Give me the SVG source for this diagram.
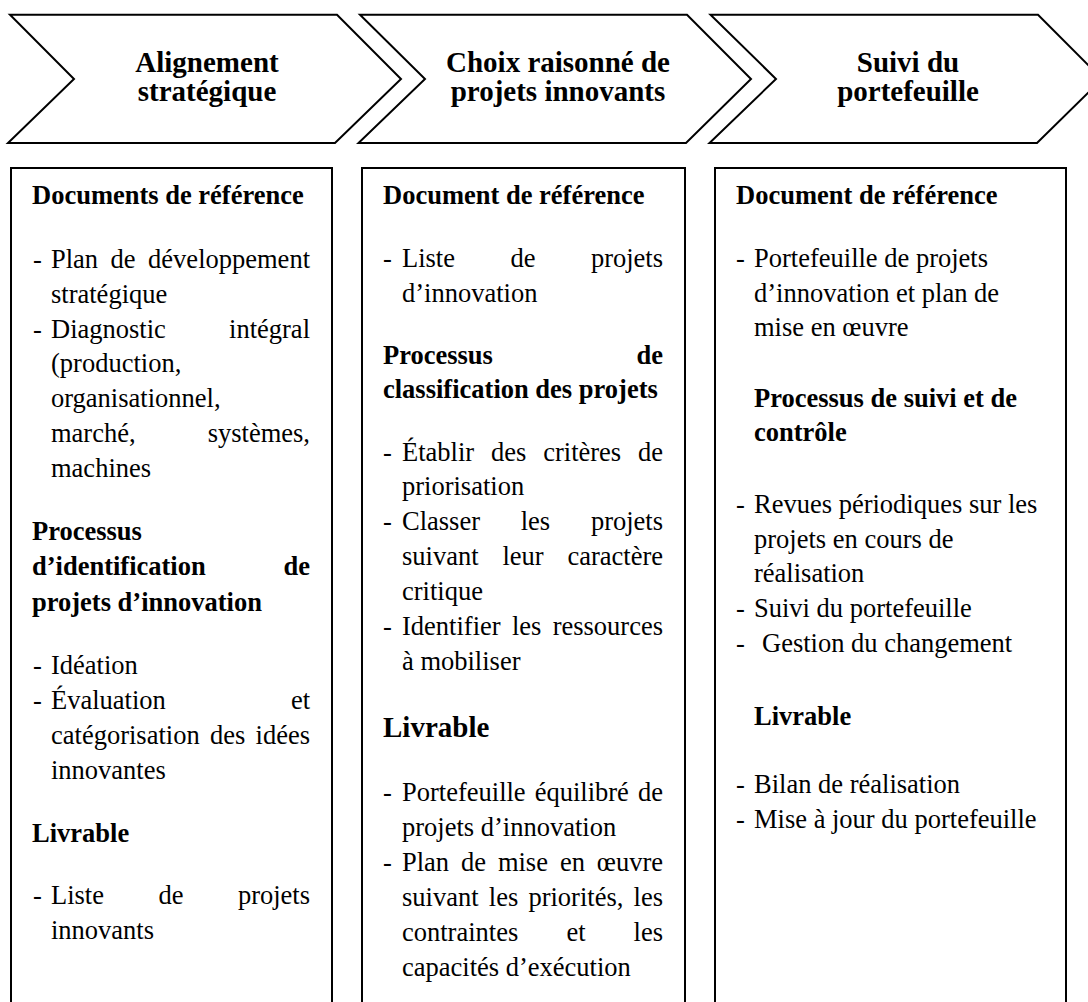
<svg xmlns="http://www.w3.org/2000/svg" width="1088" height="1002" viewBox="0 0 1088 1002">
<style>
  .shape { fill: #ffffff; stroke: #000000; stroke-width: 2; stroke-linejoin: miter; }
  text { font-family: "Liberation Serif", "Times New Roman", serif; fill: #000000; }
  .title { font-size: 29px; font-weight: bold; text-anchor: middle; }
  .t { font-size: 26.5px; }
  .b { font-size: 26.5px; font-weight: bold; }
  .bl { font-size: 29px; font-weight: bold; }
  .e { text-anchor: end; }
</style>
<rect width="1088" height="1002" fill="#ffffff"/>

<g id="chevron-alignement">
  <polygon class="shape" points="10,14.7 337,14.7 401,79 335,143 8,143 74,79"/>
  <text class="title" x="207" y="72">Alignement</text>
  <text class="title" x="207" y="101">stratégique</text>
</g>
<g id="chevron-choix">
  <polygon class="shape" points="360,14.7 687,14.7 751,79 686,143 358.5,143 425,79"/>
  <text class="title" x="558" y="72">Choix raisonné de</text>
  <text class="title" x="558" y="101">projets innovants</text>
</g>
<g id="chevron-suivi">
  <polygon class="shape" points="710.5,14.7 1038,14.7 1102,79 1037,143 709.5,143 776,79"/>
  <text class="title" x="908" y="72">Suivi du</text>
  <text class="title" x="908" y="101">portefeuille</text>
</g>

<g id="connectors"></g>

<g id="box-alignement">
  <rect class="shape" x="11" y="168" width="321" height="900"/>
  <text class="b" x="32" y="204">Documents de référence</text>
  <text class="t" x="33" y="268">-</text>
  <text class="t" x="51" y="268">Plan</text>
  <text class="t" x="110.6" y="268">de</text>
  <text class="t e" x="310" y="268">développement</text>
  <text class="t" x="51" y="303">stratégique</text>
  <text class="t" x="33" y="338">-</text>
  <text class="t" x="51" y="338">Diagnostic</text>
  <text class="t e" x="310" y="338">intégral</text>
  <text class="t" x="51" y="372">(production,</text>
  <text class="t" x="51" y="407">organisationnel,</text>
  <text class="t" x="51" y="442">marché,</text>
  <text class="t e" x="310" y="442">systèmes,</text>
  <text class="t" x="51" y="477">machines</text>
  <text class="b" x="32" y="540">Processus</text>
  <text class="b" x="32" y="575">d’identification</text>
  <text class="b e" x="310" y="575">de</text>
  <text class="b" x="32" y="611">projets d’innovation</text>
  <text class="t" x="33" y="674">-</text>
  <text class="t" x="51" y="674">Idéation</text>
  <text class="t" x="33" y="709">-</text>
  <text class="t" x="51" y="709">Évaluation</text>
  <text class="t e" x="310" y="709">et</text>
  <text class="t" x="51" y="744">catégorisation</text>
  <text class="t" x="210" y="744">des</text>
  <text class="t e" x="310" y="744">idées</text>
  <text class="t" x="51" y="779">innovantes</text>
  <text class="b" x="32" y="842">Livrable</text>
  <text class="t" x="33" y="904">-</text>
  <text class="t" x="51" y="904">Liste</text>
  <text class="t" x="158.4" y="904">de</text>
  <text class="t e" x="310" y="904">projets</text>
  <text class="t" x="51" y="939">innovants</text>
</g>

<g id="box-choix">
  <rect class="shape" x="362" y="168" width="323" height="900"/>
  <text class="b" x="383" y="204">Document de référence</text>
  <text class="t" x="383" y="267">-</text>
  <text class="t" x="402" y="267">Liste</text>
  <text class="t" x="510.4" y="267">de</text>
  <text class="t e" x="663" y="267">projets</text>
  <text class="t" x="402" y="302">d’innovation</text>
  <text class="b" x="383" y="364">Processus</text>
  <text class="b e" x="663" y="364">de</text>
  <text class="b" x="383" y="398">classification des projets</text>
  <text class="t" x="383" y="461">-</text>
  <text class="t" x="402" y="461">Établir</text>
  <text class="t" x="491" y="461">des</text>
  <text class="t" x="543.2" y="461">critères</text>
  <text class="t e" x="663" y="461">de</text>
  <text class="t" x="402" y="495">priorisation</text>
  <text class="t" x="383" y="530">-</text>
  <text class="t" x="402" y="530">Classer</text>
  <text class="t" x="520.7" y="530">les</text>
  <text class="t e" x="663" y="530">projets</text>
  <text class="t" x="402" y="565">suivant</text>
  <text class="t" x="502.4" y="565">leur</text>
  <text class="t e" x="663" y="565">caractère</text>
  <text class="t" x="402" y="600">critique</text>
  <text class="t" x="383" y="635">-</text>
  <text class="t" x="402" y="635">Identifier</text>
  <text class="t" x="511.9" y="635">les</text>
  <text class="t e" x="663" y="635">ressources</text>
  <text class="t" x="402" y="670">à mobiliser</text>
  <text class="bl" x="383" y="737">Livrable</text>
  <text class="t" x="383" y="801">-</text>
  <text class="t" x="402" y="801">Portefeuille</text>
  <text class="t" x="534.7" y="801">équilibré</text>
  <text class="t e" x="663" y="801">de</text>
  <text class="t" x="402" y="836">projets d’innovation</text>
  <text class="t" x="383" y="871">-</text>
  <text class="t" x="402" y="871">Plan</text>
  <text class="t" x="461" y="871">de</text>
  <text class="t" x="497.9" y="871">mise</text>
  <text class="t" x="559.9" y="871">en</text>
  <text class="t e" x="663" y="871">œuvre</text>
  <text class="t" x="402" y="906">suivant</text>
  <text class="t" x="488.8" y="906">les</text>
  <text class="t" x="528.4" y="906">priorités,</text>
  <text class="t e" x="663" y="906">les</text>
  <text class="t" x="402" y="941">contraintes</text>
  <text class="t" x="566.4" y="941">et</text>
  <text class="t e" x="663" y="941">les</text>
  <text class="t" x="402" y="976">capacités d’exécution</text>
</g>

<g id="box-suivi">
  <rect class="shape" x="715" y="168" width="351" height="900"/>
  <text class="b" x="736" y="204">Document de référence</text>
  <text class="t" x="736" y="267">-</text>
  <text class="t" x="754" y="267">Portefeuille de projets</text>
  <text class="t" x="754" y="302">d’innovation et plan de</text>
  <text class="t" x="754" y="336">mise en œuvre</text>
  <text class="b" x="754" y="407">Processus de suivi et de</text>
  <text class="b" x="754" y="441">contrôle</text>
  <text class="t" x="736" y="513">-</text>
  <text class="t" x="754" y="513">Revues périodiques sur les</text>
  <text class="t" x="754" y="548">projets en cours de</text>
  <text class="t" x="754" y="582">réalisation</text>
  <text class="t" x="736" y="617">-</text>
  <text class="t" x="754" y="617">Suivi du portefeuille</text>
  <text class="t" x="736" y="652">-</text>
  <text class="t" x="762" y="652">Gestion du changement</text>
  <text class="b" x="754" y="725">Livrable</text>
  <text class="t" x="736" y="793">-</text>
  <text class="t" x="754" y="793">Bilan de réalisation</text>
  <text class="t" x="736" y="828">-</text>
  <text class="t" x="754" y="828">Mise à jour du portefeuille</text>
</g>
</svg>
